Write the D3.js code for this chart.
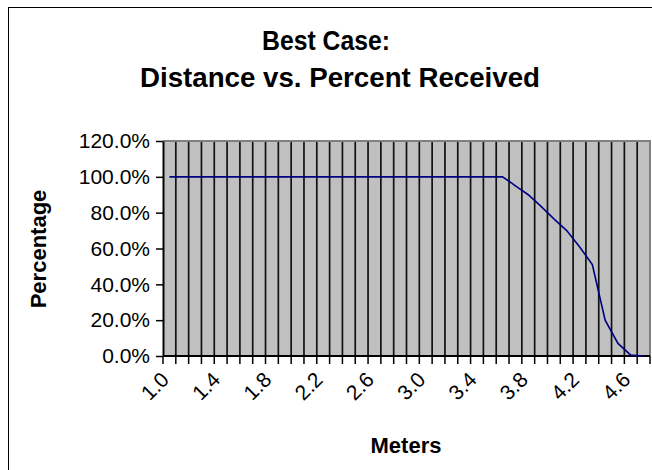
<!DOCTYPE html>
<html>
<head>
<meta charset="utf-8">
<script src="https://cdn.jsdelivr.net/npm/d3@7"></script>
<style>
  html, body { margin: 0; padding: 0; background: #fff; }
  svg { display: block; font-family: "Liberation Sans", Arial, sans-serif; }
</style>
</head>
<body>
<svg id="chart" width="652" height="470"></svg>
<script>
// Distance in meters (category axis)
const categories = [
  "1.0","1.1","1.2","1.3","1.4","1.5","1.6","1.7","1.8","1.9",
  "2.0","2.1","2.2","2.3","2.4","2.5","2.6","2.7","2.8","2.9",
  "3.0","3.1","3.2","3.3","3.4","3.5","3.6","3.7","3.8","3.9",
  "4.0","4.1","4.2","4.3","4.4","4.5","4.6","4.7"
];
// Percent of packets received at each distance
const percentReceived = [
  100,100,100,100,100,100,100,100,100,100,
  100,100,100,100,100,100,100,100,100,100,
  100,100,100,100,100,100,100,95,90,83.5,
  76.5,70,61,51,20,7,0.5,0
];
// Axis labels shown
const xTickLabels = ["1.0","1.4","1.8","2.2","2.6","3.0","3.4","3.8","4.2","4.6"];
const yTickValues = [0, 0.2, 0.4, 0.6, 0.8, 1.0, 1.2];

const svg = d3.select("#chart");
const FONT = "'Liberation Sans', Arial, sans-serif";

// Outer chart frame
svg.append("rect")
  .attr("x", 8.5).attr("y", 7.5)
  .attr("width", 700).attr("height", 500)
  .attr("fill", "none").attr("stroke", "#000").attr("stroke-width", 1);

const plot = { left: 163, right: 650, top: 141, bottom: 356 };

const x = d3.scaleBand().domain(categories).range([plot.left, plot.right]).padding(0);
const y = d3.scaleLinear().domain([0, 1.2]).range([plot.bottom, plot.top]);

// Plot background
svg.append("rect")
  .attr("x", plot.left).attr("y", plot.top)
  .attr("width", plot.right - plot.left).attr("height", plot.bottom - plot.top)
  .attr("fill", "#c0c0c0");

// Category boundaries: vertical gridlines
const boundaries = categories.map(c => x(c)).concat([x(categories[categories.length - 1]) + x.bandwidth()]);
svg.append("g").selectAll("line.grid")
  .data(boundaries.slice(1, -1))
  .join("line")
  .attr("class", "grid")
  .attr("x1", d => d).attr("x2", d => d)
  .attr("y1", plot.top).attr("y2", plot.bottom)
  .attr("stroke", "#111").attr("stroke-width", 1.7);

// Plot frame top and right
svg.append("path")
  .attr("d", `M${plot.left},${plot.top}H${plot.right}V${plot.bottom}`)
  .attr("fill", "none").attr("stroke", "#808080").attr("stroke-width", 2);

// Y axis
const yAxis = d3.axisLeft(y)
  .tickValues(yTickValues)
  .tickFormat(d3.format(".1%"))
  .tickSize(7).tickPadding(6).tickSizeOuter(0);
const gy = svg.append("g").attr("transform", `translate(${plot.left},0)`).call(yAxis);
gy.select(".domain").attr("stroke", "#000").attr("stroke-width", 2);
gy.selectAll(".tick line").attr("stroke", "#000").attr("stroke-width", 1.5);
gy.selectAll(".tick text").attr("font-size", 21).attr("fill", "#000")
  .attr("font-family", FONT);

// X axis ticks at category boundaries
svg.append("g").selectAll("line.xtick")
  .data(boundaries)
  .join("line")
  .attr("class", "xtick")
  .attr("x1", d => d).attr("x2", d => d)
  .attr("y1", plot.bottom).attr("y2", plot.bottom + 8)
  .attr("stroke", "#000").attr("stroke-width", 1.5);

// X axis labels
const xAxis = d3.axisBottom(x).tickValues(xTickLabels).tickSize(0).tickSizeOuter(0);
const gx = svg.append("g").attr("transform", `translate(0,${plot.bottom})`).call(xAxis);
gx.select(".domain").attr("stroke", "#000").attr("stroke-width", 2)
  .attr("d", `M${plot.left},0H${plot.right}`);
gx.selectAll(".tick text")
  .attr("font-size", 21).attr("fill", "#000")
  .attr("font-family", FONT)
  .attr("text-anchor", "end")
  .attr("dy", null)
  .attr("transform", "translate(-3,21) rotate(-45)")
  .attr("x", 0).attr("y", 0)
  .attr("dominant-baseline", "middle");

// Data line
const line = d3.line()
  .x((d, i) => x(categories[i]) + x.bandwidth() / 2)
  .y(d => y(d / 100));
svg.append("path")
  .datum(percentReceived)
  .attr("d", line)
  .attr("fill", "none").attr("stroke", "#000080").attr("stroke-width", 1.6);

// Titles
const title = svg.append("text")
  .attr("text-anchor", "middle").attr("font-weight", "bold").attr("font-size", 27)
  .attr("fill", "#000").attr("lengthAdjust", "spacingAndGlyphs");
title.append("tspan").attr("x", 326).attr("y", 50)
  .attr("textLength", 128).attr("lengthAdjust", "spacingAndGlyphs").text("Best Case:");
title.append("tspan").attr("x", 340).attr("y", 87)
  .attr("textLength", 400).attr("lengthAdjust", "spacingAndGlyphs").text("Distance vs. Percent Received");

svg.append("text")
  .attr("transform", "translate(46,249) rotate(-90)")
  .attr("text-anchor", "middle").attr("font-weight", "bold").attr("font-size", 22)
  .attr("fill", "#000")
  .text("Percentage");

svg.append("text")
  .attr("x", 406).attr("y", 453)
  .attr("text-anchor", "middle").attr("font-weight", "bold").attr("font-size", 22)
  .attr("fill", "#000")
  .text("Meters");
</script>
</body>
</html>
